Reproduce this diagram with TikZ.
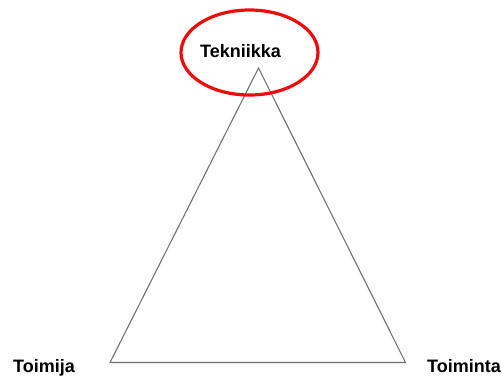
\documentclass[tikz,border=0pt]{standalone}
\usepackage{fontspec}
\setmainfont{Liberation Sans}
\definecolor{lineaG}{HTML}{6E6E6E}
\definecolor{rojoE}{HTML}{F00A0A}
\tikzset{
  etiqueta/.style={font=\fontsize{13.5}{16}\selectfont\bfseries, anchor=base, inner sep=0pt},
  lado/.style={draw=lineaG, line width=0.8pt},
}
\begin{document}
\begin{tikzpicture}[x=0.75pt,y=-0.75pt]
  \useasboundingbox (0,0) rectangle (502,376);
  % vertices
  \coordinate (tek) at (258.5,68);
  \coordinate (toij) at (110,362.5);
  \coordinate (toin) at (405.5,362.5);
  \draw[lado] (tek) -- (toij) -- (toin) -- cycle;
  % marca roja
  \draw[rojoE, line width=2.4pt] (249.5,52.5) ellipse (68.5 and 42.5);
  \node[etiqueta] (lTek) at (240.5,57.5) {Tekniikka};
  \node[etiqueta] (lToij) at (44,372.5) {Toimija};
  \node[etiqueta] (lToin) at (464,372.5) {Toiminta};
\end{tikzpicture}
\end{document}
